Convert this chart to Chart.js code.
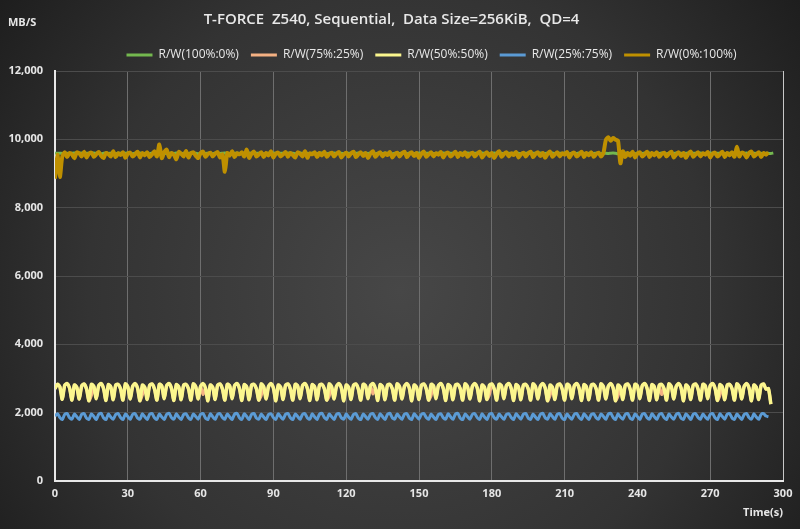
<!DOCTYPE html>
<html>
<head>
<meta charset="utf-8">
<script src="https://cdn.jsdelivr.net/npm/chart.js@4/dist/chart.umd.min.js"></script>
<style>
html,body{margin:0;padding:0;background:#1c1c1c;}
#wrap{width:800px;height:529px;position:relative;}
</style>
</head>
<body>
<div id="wrap"><canvas id="c" width="800" height="529"></canvas></div>
<script>
const TITLE = 'T-FORCE  Z540, Sequential,  Data Size=256KiB,  QD=4';
const Y_UNIT = 'MB/S';
const X_UNIT = 'Time(s)';
const SERIES_NAMES = ['R/W(100%:0%)', 'R/W(75%:25%)', 'R/W(50%:50%)', 'R/W(25%:75%)', 'R/W(0%:100%)'];
const X_TICKS = [0, 30, 60, 90, 120, 150, 180, 210, 240, 270, 300];
const Y_TICKS = [0, 2000, 4000, 6000, 8000, 10000, 12000];

const TIME = [
0,1,2,3,4,5,6,7,8,9,10,11,12,13,14,15,16,17,18,19,
20,21,22,23,24,25,26,27,28,29,30,31,32,33,34,35,36,37,38,39,
40,41,42,43,44,45,46,47,48,49,50,51,52,53,54,55,56,57,58,59,
60,61,62,63,64,65,66,67,68,69,70,71,72,73,74,75,76,77,78,79,
80,81,82,83,84,85,86,87,88,89,90,91,92,93,94,95,96,97,98,99,
100,101,102,103,104,105,106,107,108,109,110,111,112,113,114,115,116,117,118,119,
120,121,122,123,124,125,126,127,128,129,130,131,132,133,134,135,136,137,138,139,
140,141,142,143,144,145,146,147,148,149,150,151,152,153,154,155,156,157,158,159,
160,161,162,163,164,165,166,167,168,169,170,171,172,173,174,175,176,177,178,179,
180,181,182,183,184,185,186,187,188,189,190,191,192,193,194,195,196,197,198,199,
200,201,202,203,204,205,206,207,208,209,210,211,212,213,214,215,216,217,218,219,
220,221,222,223,224,225,226,227,228,229,230,231,232,233,234,235,236,237,238,239,
240,241,242,243,244,245,246,247,248,249,250,251,252,253,254,255,256,257,258,259,
260,261,262,263,264,265,266,267,268,269,270,271,272,273,274,275,276,277,278,279,
280,281,282,283,284,285,286,287,288,289,290,291,292,293,294,295,296
];

const RW100 = [
9600,9590,9595,9585,9600,9590,9580,9595,9600,9585,9590,9600,9580,9595,9590,9585,9600,9590,9595,9580,
9590,9600,9585,9595,9590,9580,9600,9590,9585,9595,9600,9590,9580,9595,9590,9600,9585,9590,9595,9580,
9600,9590,9585,9595,9590,9600,9580,9590,9595,9585,9600,9590,9580,9595,9590,9585,9600,9590,9595,9580,
9590,9600,9585,9595,9590,9580,9600,9590,9585,9595,9600,9590,9580,9595,9590,9600,9585,9590,9595,9580,
9600,9590,9585,9595,9590,9600,9580,9590,9595,9585,9600,9590,9580,9595,9590,9585,9600,9590,9595,9580,
9590,9600,9585,9595,9590,9580,9600,9590,9585,9595,9600,9590,9580,9595,9590,9600,9585,9590,9595,9580,
9600,9590,9585,9595,9590,9600,9580,9590,9595,9585,9600,9590,9580,9595,9590,9585,9600,9590,9595,9580,
9590,9600,9585,9595,9590,9580,9600,9590,9585,9595,9600,9590,9580,9595,9590,9600,9585,9590,9595,9580,
9600,9590,9585,9595,9590,9600,9580,9590,9595,9585,9600,9590,9580,9595,9590,9585,9600,9590,9595,9580,
9590,9600,9585,9595,9590,9580,9600,9590,9585,9595,9600,9590,9580,9595,9590,9600,9585,9590,9595,9580,
9600,9590,9585,9595,9590,9600,9580,9590,9595,9585,9600,9590,9580,9595,9590,9585,9600,9590,9595,9580,
9590,9600,9585,9595,9590,9580,9600,9590,9585,9595,9600,9590,9580,9595,9590,9600,9585,9590,9595,9580,
9600,9590,9585,9595,9590,9600,9580,9590,9595,9585,9600,9590,9580,9595,9590,9585,9600,9590,9595,9580,
9590,9600,9585,9595,9590,9580,9600,9590,9585,9595,9600,9590,9580,9595,9590,9600,9585,9590,9595,9580,
9600,9590,9585,9595,9590,9600,9580,9590,9595,9585,9600,9590,9580,9595,9590,9585,9600
];

const RW75 = [
2700,2830,2760,2390,2800,2850,2720,2370,2810,2740,2400,2780,2840,2690,2350,2500,2770,2410,2790,2850,
2710,2360,2820,2750,2380,2800,2830,2700,2370,2840,2760,2400,2770,2850,2720,2350,2520,2740,2390,2800,
2840,2690,2370,2830,2780,2410,2790,2850,2710,2360,2820,2750,2380,2800,2830,2700,2370,2840,2760,2400,
2770,2530,2720,2350,2810,2740,2390,2800,2840,2690,2370,2830,2780,2410,2790,2850,2710,2360,2820,2750,
2380,2800,2830,2700,2370,2500,2760,2400,2770,2850,2720,2350,2810,2740,2390,2800,2840,2690,2370,2830,
2780,2410,2790,2850,2710,2360,2820,2750,2380,2800,2830,2700,2370,2480,2760,2400,2770,2850,2720,2350,
2810,2740,2390,2800,2840,2690,2370,2830,2780,2410,2790,2550,2710,2360,2820,2750,2380,2800,2830,2700,
2370,2840,2760,2400,2770,2850,2720,2350,2810,2740,2390,2800,2840,2690,2370,2500,2780,2410,2790,2850,
2710,2360,2820,2750,2380,2800,2830,2700,2370,2840,2760,2400,2770,2850,2720,2350,2810,2740,2390,2520,
2840,2690,2370,2830,2780,2410,2790,2850,2710,2360,2820,2750,2380,2800,2830,2700,2370,2840,2760,2400,
2770,2850,2720,2350,2500,2740,2390,2800,2840,2690,2370,2830,2780,2410,2790,2850,2710,2360,2820,2750,
2380,2800,2830,2700,2370,2840,2760,2400,2770,2850,2720,2350,2480,2740,2390,2800,2840,2690,2370,2830,
2780,2410,2790,2850,2710,2360,2820,2750,2380,2800,2530,2700,2370,2840,2760,2400,2770,2850,2720,2350,
2810,2740,2390,2800,2840,2690,2370,2830,2780,2410,2790,2850,2710,2360,2500,2750,2380,2800,2830,2700,
2370,2840,2760,2400,2770,2850,2720,2350,2810,2740,2390,2800,2840,2690,2700,2250
];

const RW50 = [
2700,2830,2760,2390,2800,2850,2720,2370,2810,2740,2400,2780,2840,2690,2350,2830,2770,2410,2790,2850,
2710,2360,2820,2750,2380,2800,2830,2700,2370,2840,2760,2400,2770,2850,2720,2350,2810,2740,2390,2800,
2840,2690,2370,2830,2780,2410,2790,2850,2710,2360,2820,2750,2380,2800,2830,2700,2370,2840,2760,2400,
2770,2850,2720,2350,2810,2740,2390,2800,2840,2690,2370,2830,2780,2410,2790,2850,2710,2360,2820,2750,
2380,2800,2830,2700,2370,2840,2760,2400,2770,2850,2720,2350,2810,2740,2390,2800,2840,2690,2370,2830,
2780,2410,2790,2850,2710,2360,2820,2750,2380,2800,2830,2700,2370,2840,2760,2400,2770,2850,2720,2350,
2810,2740,2390,2800,2840,2690,2370,2830,2780,2410,2790,2850,2710,2360,2820,2750,2380,2800,2830,2700,
2370,2840,2760,2400,2770,2850,2720,2350,2810,2740,2390,2800,2840,2690,2370,2830,2780,2410,2790,2850,
2710,2360,2820,2750,2380,2800,2830,2700,2370,2840,2760,2400,2770,2850,2720,2350,2810,2740,2390,2800,
2840,2690,2370,2830,2780,2410,2790,2850,2710,2360,2820,2750,2380,2800,2830,2700,2370,2840,2760,2400,
2770,2850,2720,2350,2810,2740,2390,2800,2840,2690,2370,2830,2780,2410,2790,2850,2710,2360,2820,2750,
2380,2800,2830,2700,2370,2840,2760,2400,2770,2850,2720,2350,2810,2740,2390,2800,2840,2690,2370,2830,
2780,2410,2790,2850,2710,2360,2820,2750,2380,2800,2830,2700,2370,2840,2760,2400,2770,2850,2720,2350,
2810,2740,2390,2800,2840,2690,2370,2830,2780,2410,2790,2850,2710,2360,2820,2750,2380,2800,2830,2700,
2370,2840,2760,2400,2770,2850,2720,2350,2810,2740,2390,2800,2840,2690,2700,2250
];

const RW25 = [
1900,1970,1860,1800,1950,1975,1850,1810,1960,1880,1800,1955,1970,1840,1805,1965,1890,1800,1950,1980,
1850,1800,1960,1870,1810,1945,1975,1860,1800,1960,1885,1805,1950,1970,1845,1810,1965,1880,1800,1955,
1975,1850,1805,1960,1875,1800,1950,1980,1855,1810,1965,1870,1800,1945,1970,1850,1805,1960,1890,1810,
1955,1975,1845,1800,1965,1880,1805,1950,1970,1860,1810,1960,1875,1800,1955,1980,1850,1805,1965,1885,
1800,1950,1975,1840,1810,1960,1870,1800,1945,1970,1855,1805,1965,1880,1810,1955,1975,1850,1800,1960,
1890,1805,1950,1970,1845,1810,1965,1875,1800,1955,1980,1860,1805,1960,1880,1800,1950,1975,1850,1810,
1965,1870,1805,1945,1970,1840,1800,1960,1885,1810,1955,1975,1855,1805,1965,1880,1800,1950,1980,1850,
1810,1960,1875,1805,1955,1970,1845,1800,1965,1890,1810,1950,1975,1860,1805,1960,1870,1800,1945,1970,
1850,1810,1965,1880,1805,1955,1980,1840,1800,1960,1885,1810,1950,1970,1855,1805,1965,1875,1800,1955,
1975,1850,1810,1960,1880,1805,1945,1970,1860,1800,1965,1890,1810,1955,1975,1845,1805,1960,1870,1800,
1950,1980,1850,1810,1965,1885,1805,1955,1970,1840,1800,1960,1875,1810,1950,1975,1855,1805,1965,1880,
1800,1945,1970,1850,1810,1960,1890,1805,1955,1980,1860,1800,1965,1870,1810,1950,1975,1845,1805,1960,
1885,1800,1955,1970,1850,1810,1965,1880,1805,1945,1975,1855,1800,1960,1875,1810,1950,1980,1840,1805,
1965,1890,1800,1955,1970,1860,1810,1960,1870,1805,1950,1975,1850,1800,1965,1885,1810,1955,1970,1845,
1805,1960,1880,1800,1945,1975,1855,1810,1965,1875,1805,1950,1970,1900,1880
];

const RW0 = [
8850,9550,8900,9500,9620,9480,9600,9560,9450,9620,9590,9500,9640,9470,9580,9610,9490,9560,9630,9520,
9450,9600,9570,9500,9650,9480,9590,9540,9620,9460,9580,9610,9500,9560,9640,9470,9600,9530,9620,9480,
9560,9650,9500,9850,9450,9620,9700,9480,9600,9550,9420,9630,9580,9500,9660,9470,9590,9620,9520,9450,
9600,9640,9490,9570,9610,9500,9580,9630,9470,9560,9050,9600,9520,9650,9480,9590,9560,9620,9500,9700,
9460,9580,9640,9500,9560,9620,9480,9600,9530,9650,9470,9580,9610,9500,9560,9630,9490,9600,9540,9470,
9620,9580,9500,9650,9460,9590,9560,9620,9480,9600,9530,9640,9490,9570,9610,9500,9580,9630,9470,9560,
9610,9500,9590,9640,9480,9560,9620,9510,9600,9450,9580,9650,9490,9570,9620,9500,9590,9540,9630,9470,
9560,9610,9500,9590,9640,9480,9570,9620,9510,9600,9460,9580,9640,9490,9560,9620,9500,9590,9550,9630,
9470,9580,9610,9500,9560,9640,9480,9600,9530,9620,9490,9570,9610,9500,9580,9640,9470,9560,9620,9510,
9600,9450,9580,9650,9490,9570,9620,9500,9590,9540,9630,9470,9560,9610,9500,9590,9640,9480,9570,9620,
9510,9600,9460,9580,9640,9490,9560,9620,9500,9590,9550,9630,9470,9580,9610,9500,9560,9640,9480,9600,
9530,9620,9490,9570,9610,9500,9600,9980,10060,9960,10040,9990,9960,9300,9650,9480,9600,9520,9640,9470,
9580,9620,9500,9560,9640,9480,9600,9530,9620,9490,9570,9610,9500,9580,9640,9470,9560,9620,9510,9600,
9460,9580,9640,9490,9560,9620,9500,9590,9550,9630,9470,9580,9610,9500,9560,9640,9480,9600,9530,9620,
9490,9780,9500,9610,9580,9470,9600,9640,9500,9560,9620,9480,9600,9550,9620
];

const COLORS = ['#74b84f', '#f4b183', '#fbf68e', '#5b9bd5', '#bf9000'];
const SERIES = [RW100, RW75, RW50, RW25, RW0];
const WIDTHS = [3, 3, 3.5, 3, 4];
const ORDERS = [5, 4, 3, 2, 1];
const LEGEND_SHIFT = 40;

const bgPlugin = {
  id: 'bg',
  afterLayout(chart) {
    if (chart.legend) { chart.legend.left += LEGEND_SHIFT; chart.legend.right += LEGEND_SHIFT; }
  },
  beforeDraw(chart) {
    const ctx = chart.ctx;
    const w = chart.width, h = chart.height;
    ctx.save();
    const g = ctx.createRadialGradient(w * 0.5, h * 0.55, 0, w * 0.5, h * 0.55, 520);
    g.addColorStop(0, '#474747');
    g.addColorStop(0.6, '#333333');
    g.addColorStop(1, '#1b1b1b');
    ctx.fillStyle = g;
    ctx.fillRect(0, 0, w, h);
    ctx.restore();
  },
  afterDraw(chart) {
    const ctx = chart.ctx;
    ctx.save();
    ctx.font = 'bold 11px "Open Sans"';
    ctx.fillStyle = '#e6e6e6';
    ctx.textBaseline = 'middle';
    ctx.textAlign = 'left';
    ctx.fillText(Y_UNIT, 8, 23);
    ctx.restore();
  }
};

const datasets = SERIES.map((s, k) => ({
  label: SERIES_NAMES[k],
  data: s.map((v, i) => ({x: TIME[i], y: v})),
  borderColor: COLORS[k],
  backgroundColor: COLORS[k],
  borderWidth: WIDTHS[k],
  pointRadius: 0,
  tension: 0.25,
  order: ORDERS[k]
}));

new Chart(document.getElementById('c'), {
  type: 'line',
  data: {datasets},
  plugins: [bgPlugin],
  options: {
    responsive: false,
    animation: false,
    devicePixelRatio: 1,
    layout: {padding: {left: 0, right: 17, top: 0, bottom: 0}},
    plugins: {
      tooltip: {enabled: false},
      title: {
        display: true,
        text: TITLE,
        color: '#e8e8e8',
        font: {family: '"Open Sans"', size: 15, weight: '600'},
        padding: {top: 11, bottom: 8}
      },
      legend: {
        display: true,
        labels: {
          color: '#e8e8e8',
          font: {family: '"Open Sans"', size: 12},
          boxWidth: 26,
          boxHeight: 3,
          padding: 12,
          sort: (a, b) => a.datasetIndex - b.datasetIndex,
          generateLabels(chart) {
            const items = Chart.defaults.plugins.legend.labels.generateLabels(chart);
            items.forEach(it => { it.lineWidth = 0; it.strokeStyle = 'transparent'; it.fillStyle = COLORS[it.datasetIndex]; });
            return items;
          }
        }
      }
    },
    scales: {
      x: {
        type: 'linear',
        min: 0, max: 300,
        afterBuildTicks(scale) { scale.ticks = X_TICKS.map(v => ({value: v})); },
        afterFit(scale) { scale.height = 48; },
        ticks: {color: '#e6e6e6', font: {family: '"Open Sans"', size: 11, weight: 'bold'}, padding: 6, maxRotation: 0},
        grid: {
          color: ctx => (ctx.tick && ctx.tick.value === 300) ? '#c8c8c8' : '#6e6e6e',
          lineWidth: 1,
          drawTicks: false
        },
        border: {color: '#e8e8e8', width: 2},
        title: {display: true, text: X_UNIT, align: 'end', color: '#e6e6e6',
          font: {family: '"Open Sans"', size: 11, weight: 'bold'}, padding: {top: 0, bottom: 10}}
      },
      y: {
        min: 0, max: 12000,
        afterBuildTicks(scale) { scale.ticks = Y_TICKS.map(v => ({value: v})); },
        afterFit(scale) { scale.width = 55; },
        ticks: {
          color: '#e6e6e6', font: {family: '"Open Sans"', size: 11, weight: 'bold'}, padding: 12,
          callback: v => v.toLocaleString('en-US')
        },
        grid: {color: '#4c4c4c', lineWidth: 1, drawTicks: false},
        border: {color: '#e8e8e8', width: 2}
      }
    }
  }
});
</script>
</body>
</html>
